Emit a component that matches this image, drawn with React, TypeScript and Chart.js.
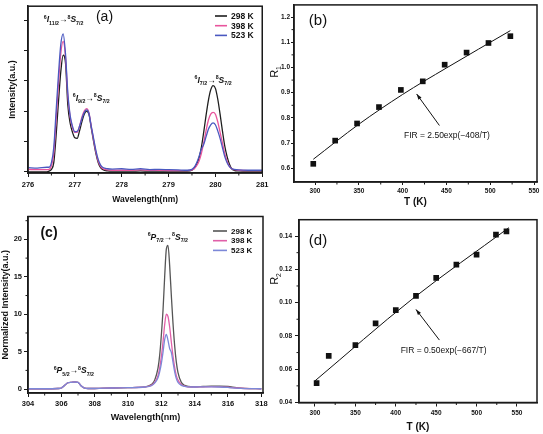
import React, { useEffect, useRef } from 'react';
import { Chart, registerables } from 'chart.js';
Chart.register(...registerables);

const FONT = '"Liberation Sans", Arial, Helvetica, sans-serif';
const AXIS = '#1a1a1a';
const INK = '#111111';

// ---------- shared ----------
const legendLabels = ['298 K', '398 K', '523 K'];
const colorsA = ['#1e1e1e', '#e8559d', '#4a58c0'];
const colorsC = ['#555555', '#e060a8', '#7c88d8'];

// ---------- panel (a) ----------
const waveA = [276.0, 276.2, 276.4, 276.45, 276.5, 276.55, 276.6, 276.65, 276.7, 276.75,
  276.8, 276.85, 276.9, 276.95, 277.0, 277.05, 277.1, 277.15, 277.2, 277.25,
  277.3, 277.35, 277.4, 277.45, 277.5, 277.55, 277.6, 277.7, 277.8, 278.0,
  278.2, 278.4, 278.6, 278.8, 279.0, 279.2, 279.4, 279.5, 279.55, 279.6,
  279.65, 279.7, 279.75, 279.8, 279.85, 279.9, 279.95, 280.0, 280.05, 280.1,
  280.15, 280.2, 280.25, 280.3, 280.35, 280.4, 280.5, 280.7, 281.0];
const a298 = [0.0, 0.0, 0.0, 0.02, 0.08, 0.3, 1.2, 2.3, 3.3, 3.85,
  3.6, 2.2, 1.6, 1.3, 1.12, 1.1, 1.35, 1.65, 1.9, 2.0,
  1.9, 1.45, 1.0, 0.6, 0.3, 0.14, 0.07, 0.03, 0.02, 0.02,
  0.02, 0.03, 0.02, 0.02, 0.02, 0.02, 0.02, 0.05, 0.12, 0.25,
  0.45, 0.8, 1.3, 1.85, 2.35, 2.7, 2.84, 2.75, 2.4, 1.9,
  1.35, 0.85, 0.5, 0.25, 0.1, 0.05, 0.03, 0.02, 0.02];
const a398 = [0.08, 0.07, 0.07, 0.08, 0.2, 0.6, 1.7, 2.9, 3.9, 4.3,
  3.8, 2.5, 1.8, 1.45, 1.3, 1.3, 1.5, 1.8, 2.0, 2.08,
  1.95, 1.5, 1.05, 0.65, 0.35, 0.18, 0.1, 0.06, 0.05, 0.05,
  0.05, 0.06, 0.05, 0.05, 0.04, 0.04, 0.04, 0.06, 0.1, 0.2,
  0.35, 0.6, 0.95, 1.35, 1.7, 1.9, 1.96, 1.9, 1.65, 1.3,
  0.95, 0.6, 0.35, 0.18, 0.1, 0.07, 0.05, 0.04, 0.04];
const a523 = [0.14, 0.12, 0.15, 0.15, 0.3, 0.8, 2.0, 3.2, 4.2, 4.55,
  3.9, 2.6, 1.85, 1.5, 1.32, 1.33, 1.5, 1.75, 1.95, 2.04,
  1.93, 1.5, 1.1, 0.7, 0.4, 0.22, 0.14, 0.1, 0.09, 0.1,
  0.08, 0.1, 0.07, 0.08, 0.07, 0.06, 0.05, 0.08, 0.15, 0.3,
  0.5, 0.75, 0.9, 1.15, 1.4, 1.55, 1.61, 1.55, 1.35, 1.1,
  0.8, 0.5, 0.3, 0.17, 0.1, 0.08, 0.06, 0.05, 0.05];
const ticksAX = [276, 277, 278, 279, 280, 281];
const minorAX = [276.5, 277.5, 278.5, 279.5, 280.5];
const ticksAY = [0, 1, 2, 3, 4, 5];

// ---------- panel (b) ----------
const tempB = [298, 323, 348, 373, 398, 423, 448, 473, 498, 523];
const r1 = [0.618, 0.71, 0.778, 0.843, 0.911, 0.945, 1.011, 1.059, 1.097, 1.124];
const fitTB = [298, 350, 400, 450, 523];
const fitR1 = [0.636, 0.775, 0.893, 0.998, 1.146];
const ticksBX = [300, 350, 400, 450, 500, 550];
const minorBX = [325, 375, 425, 475, 525];
const ticksBY = [0.6, 0.7, 0.8, 0.9, 1.0, 1.1, 1.2];
const minorBY = [0.65, 0.75, 0.85, 0.95, 1.05, 1.15];

// ---------- panel (c) ----------
const waveC = [304, 305, 305.8, 306.0, 306.2, 306.4, 306.6, 306.8, 307.0, 307.2,
  307.4, 307.6, 308, 309, 310, 311, 311.4, 311.6, 311.8, 311.9,
  312.0, 312.1, 312.2, 312.3, 312.4, 312.5, 312.6, 312.7, 312.8, 312.9,
  313.0, 313.2, 313.4, 313.6, 314, 314.5, 315, 315.5, 316, 316.5, 317, 318];
const c298 = [0.05, 0.05, 0.08, 0.15, 0.5, 0.85, 0.9, 0.95, 0.9, 0.4,
  0.12, 0.08, 0.08, 0.15, 0.2, 0.3, 0.6, 1.2, 2.8, 4.5,
  7.2, 10.5, 15.0, 18.7, 19.2, 16.5, 12.5, 8.8, 5.8, 3.6,
  2.2, 0.9, 0.5, 0.35, 0.3, 0.35, 0.4, 0.4, 0.35, 0.2, 0.1, 0.05];
const c398 = [0.05, 0.05, 0.08, 0.15, 0.5, 0.85, 0.9, 0.95, 0.9, 0.4,
  0.12, 0.08, 0.08, 0.15, 0.2, 0.28, 0.5, 0.9, 1.8, 2.8,
  4.3, 6.3, 8.6, 10.0, 9.7, 8.3, 6.3, 4.4, 2.9, 1.8,
  1.2, 0.6, 0.4, 0.3, 0.28, 0.3, 0.32, 0.3, 0.25, 0.15, 0.08, 0.05];
const c523 = [0.05, 0.05, 0.08, 0.15, 0.5, 0.85, 0.9, 0.95, 0.9, 0.4,
  0.12, 0.08, 0.08, 0.15, 0.2, 0.28, 0.45, 0.8, 1.5, 2.3,
  3.4, 4.9, 6.6, 7.3, 6.5, 5.4, 4.9, 3.6, 2.3, 1.4,
  0.9, 0.5, 0.35, 0.3, 0.28, 0.3, 0.3, 0.28, 0.22, 0.12, 0.07, 0.05];
const ticksCX = [304, 306, 308, 310, 312, 314, 316, 318];
const minorCX = [305, 307, 309, 311, 313, 315, 317];
const ticksCY = [0, 5, 10, 15, 20];
const minorCY = [2.5, 7.5, 12.5, 17.5, 22.5];

// ---------- panel (d) ----------
const tempD = [302, 317, 350, 375, 400, 425, 450, 475, 500, 524, 537];
const r2 = [0.0516, 0.068, 0.0745, 0.0875, 0.0955, 0.104, 0.1149, 0.1228, 0.1288, 0.1408, 0.1428];
const fitTD = [300, 420, 540];
const fitR2 = [0.053, 0.102, 0.145];
const ticksDX = [300, 350, 400, 450, 500, 550];
const minorDX = [325, 375, 425, 475, 525];
const ticksDY = [0.04, 0.06, 0.08, 0.1, 0.12, 0.14];
const minorDY = [0.05, 0.07, 0.09, 0.11, 0.13];

// ---------- text helpers ----------
type Seg = { t: string; k: 'n' | 'i' | 'sup' | 'sub' };
const trans = (s1: string, l1: string, b1: string, s2: string, l2: string, b2: string): Seg[] => [
  { t: s1, k: 'sup' }, { t: l1, k: 'i' }, { t: b1, k: 'sub' }, { t: '\u2192', k: 'n' },
  { t: s2, k: 'sup' }, { t: l2, k: 'i' }, { t: b2, k: 'sub' },
];

function drawRich(ctx: CanvasRenderingContext2D, segs: Seg[], cx: number, cy: number, size: number, weight = 'bold') {
  const f = (k: string) =>
    k === 'i' ? `italic ${weight} ${size}px ${FONT}` : k === 'n' ? `${weight} ${size}px ${FONT}` : `${weight} ${size * 0.62}px ${FONT}`;
  let w = 0;
  segs.forEach((s) => { ctx.font = f(s.k); w += ctx.measureText(s.t).width; });
  let x = cx - w / 2;
  ctx.textAlign = 'left';
  ctx.textBaseline = 'alphabetic';
  ctx.fillStyle = INK;
  segs.forEach((s) => {
    ctx.font = f(s.k);
    const dy = s.k === 'sup' ? -size * 0.42 : s.k === 'sub' ? size * 0.28 : 0;
    ctx.fillText(s.t, x, cy + size * 0.36 + dy);
    x += ctx.measureText(s.t).width;
  });
}

function drawLegend(ctx: CanvasRenderingContext2D, colors: string[], x0: number, y0: number, dy: number, len: number, size: number) {
  ctx.font = `bold ${size}px ${FONT}`;
  ctx.textAlign = 'left';
  ctx.textBaseline = 'middle';
  legendLabels.forEach((lab, i) => {
    const y = y0 + i * dy;
    ctx.strokeStyle = colors[i];
    ctx.lineWidth = 1.6;
    ctx.beginPath();
    ctx.moveTo(x0, y);
    ctx.lineTo(x0 + len, y);
    ctx.stroke();
    ctx.fillStyle = INK;
    ctx.fillText(lab, x0 + len + 4, y + 0.5);
  });
}

function drawTag(ctx: CanvasRenderingContext2D, text: string, cx: number, cy: number, size: number, bold: boolean) {
  ctx.font = `${bold ? 'bold ' : ''}${size}px ${FONT}`;
  ctx.fillStyle = INK;
  ctx.textAlign = 'center';
  ctx.textBaseline = 'middle';
  ctx.fillText(text, cx, cy);
}

function drawArrow(ctx: CanvasRenderingContext2D, x1: number, y1: number, x2: number, y2: number) {
  ctx.strokeStyle = INK;
  ctx.fillStyle = INK;
  ctx.lineWidth = 1;
  ctx.beginPath();
  ctx.moveTo(x1, y1);
  ctx.lineTo(x2, y2);
  ctx.stroke();
  const a = Math.atan2(y2 - y1, x2 - x1);
  const L = 6, W = 0.32;
  ctx.beginPath();
  ctx.moveTo(x2, y2);
  ctx.lineTo(x2 - L * Math.cos(a - W), y2 - L * Math.sin(a - W));
  ctx.lineTo(x2 - L * Math.cos(a + W), y2 - L * Math.sin(a + W));
  ctx.closePath();
  ctx.fill();
}

function drawYTitleR(ctx: CanvasRenderingContext2D, sub: string, cx: number, cy: number) {
  ctx.save();
  ctx.translate(cx, cy);
  ctx.rotate(-Math.PI / 2);
  drawRich(ctx, [{ t: 'R', k: 'n' }, { t: sub, k: 'sub' }], 0, 0, 11, 'normal');
  ctx.restore();
}

// ---------- chart helpers ----------
function axis(o: {
  min: number; max: number; ticks: number[]; fmt: (v: number) => string; fit: number; horiz: boolean;
  tickFont: number; tickLen: number; tickPad: number; title?: string; titleFont?: number; titlePad?: any;
}) {
  return {
    type: 'linear',
    min: o.min,
    max: o.max,
    afterBuildTicks: (s: any) => { s.ticks = o.ticks.map((v) => ({ value: v })); },
    afterFit: (s: any) => { if (o.horiz) s.height = o.fit; else s.width = o.fit; },
    grid: { drawOnChartArea: false, drawTicks: true, tickLength: o.tickLen, color: AXIS, lineWidth: 1 },
    border: { display: true, color: AXIS, width: 1.5 },
    ticks: {
      autoSkip: false, maxRotation: 0, minRotation: 0, padding: o.tickPad, color: INK,
      font: { family: FONT, size: o.tickFont, weight: 'bold' },
      callback: (v: any) => o.fmt(Number(v)),
    },
    title: o.title
      ? { display: true, text: o.title, color: INK, font: { family: FONT, size: o.titleFont, weight: 'bold' }, padding: o.titlePad }
      : { display: false },
  };
}

function overlay(minorX: number[], minorY: number[], extra: (ctx: CanvasRenderingContext2D, chart: any) => void) {
  return {
    id: 'overlay',
    afterDraw(chart: any) {
      const { ctx, chartArea: a, scales } = chart;
      ctx.save();
      ctx.strokeStyle = AXIS;
      ctx.lineWidth = 1.5;
      ctx.strokeRect(a.left, a.top, a.right - a.left, a.bottom - a.top);
      ctx.lineWidth = 1;
      ctx.beginPath();
      minorX.forEach((v) => { const x = scales.x.getPixelForValue(v); ctx.moveTo(x, a.bottom); ctx.lineTo(x, a.bottom + 2.5); });
      minorY.forEach((v) => { const y = scales.y.getPixelForValue(v); ctx.moveTo(a.left, y); ctx.lineTo(a.left - 2.5, y); });
      ctx.stroke();
      extra(ctx, chart);
      ctx.restore();
    },
  };
}

const spectrum = (xs: number[], ys: number[], color: string, order: number) => ({
  data: xs.map((x, i) => ({ x, y: ys[i] })),
  borderColor: color,
  borderWidth: 1.3,
  pointRadius: 0,
  cubicInterpolationMode: 'monotone',
  fill: false,
  order,
});

const baseOptions = (padding: any) => ({
  responsive: false,
  animation: false,
  devicePixelRatio: 1,
  layout: { padding },
  plugins: { legend: { display: false }, tooltip: { enabled: false } },
});

// ---------- annotations ----------
const labelsA = [
  { x: 276.76, y: 5.03, segs: trans('6', 'I', '11/2', '8', 'S', '7/2') },
  { x: 277.35, y: 2.44, segs: trans('6', 'I', '9/2', '8', 'S', '7/2') },
  { x: 279.95, y: 3.04, segs: trans('6', 'I', '7/2', '8', 'S', '7/2') },
];
const labelsC = [
  { x: 312.39, y: 20.35, segs: trans('6', 'P', '7/2', '8', 'S', '7/2') },
  { x: 306.75, y: 2.54, segs: trans('6', 'P', '5/2', '8', 'S', '7/2') },
];
const noteB = { text: 'FIR = 2.50exp(\u2212408/T)', x: 401.5, y: 0.73, tail: [442, 0.77], tip: [416, 0.895] };
const noteD = { text: 'FIR = 0.50exp(\u2212667/T)', x: 406, y: 0.0713, tail: [454, 0.0775], tip: [425, 0.0959] };

function drawNote(ctx: CanvasRenderingContext2D, chart: any, n: any) {
  const xs = chart.scales.x, ys = chart.scales.y;
  drawArrow(ctx, xs.getPixelForValue(n.tail[0]), ys.getPixelForValue(n.tail[1]), xs.getPixelForValue(n.tip[0]), ys.getPixelForValue(n.tip[1]));
  ctx.font = `8.5px ${FONT}`;
  ctx.fillStyle = INK;
  ctx.textAlign = 'left';
  ctx.textBaseline = 'middle';
  ctx.fillText(n.text, xs.getPixelForValue(n.x), ys.getPixelForValue(n.y));
}

// ---------- configs ----------
function configA(): any {
  return {
    type: 'line',
    data: { datasets: [spectrum(waveA, a298, colorsA[0], 3), spectrum(waveA, a398, colorsA[1], 2), spectrum(waveA, a523, colorsA[2], 1)] },
    options: {
      ...baseOptions({ left: 0, right: 7, top: 2, bottom: 0 }),
      scales: {
        x: axis({ min: 276, max: 281, ticks: ticksAX, fmt: (v) => String(v), fit: 37, horiz: true, tickFont: 7.5, tickLen: 4, tickPad: 3.5, title: 'Wavelength(nm)', titleFont: 8.5, titlePad: { top: 0, bottom: 4.8 } }),
        y: axis({ min: -0.04, max: 5.46, ticks: ticksAY, fmt: () => '', fit: 28, horiz: false, tickFont: 7, tickLen: 4, tickPad: 2, title: 'Intensity(a.u.)', titleFont: 9, titlePad: { top: 7.6, bottom: 0 } }),
      },
    },
    plugins: [overlay(minorAX, [], (ctx, chart) => {
      drawLegend(ctx, colorsA, 215, 16, 9.7, 12, 8.5);
      drawTag(ctx, '(a)', 104.5, 17.5, 14, false);
      labelsA.forEach((l) => drawRich(ctx, l.segs, chart.scales.x.getPixelForValue(l.x), chart.scales.y.getPixelForValue(l.y), 8.5));
    })],
  };
}

function configB(): any {
  return {
    type: 'scatter',
    data: {
      datasets: [
        { data: tempB.map((x, i) => ({ x, y: r1[i] })), pointStyle: 'rect', pointRadius: 4, backgroundColor: INK, borderColor: INK, borderWidth: 0, order: 1 },
        { data: fitTB.map((x, i) => ({ x, y: fitR1[i] })), showLine: true, pointRadius: 0, borderColor: INK, borderWidth: 1, cubicInterpolationMode: 'monotone', order: 2 },
      ],
    },
    options: {
      ...baseOptions({ left: 0, right: 6, top: 3, bottom: 0 }),
      scales: {
        x: axis({ min: 276, max: 553.4, ticks: ticksBX, fmt: (v) => String(v), fit: 28, horiz: true, tickFont: 6.5, tickLen: 3, tickPad: 2, title: 'T (K)', titleFont: 10, titlePad: { top: 0, bottom: 1.3 } }),
        y: axis({ min: 0.546, max: 1.248, ticks: ticksBY, fmt: (v) => v.toFixed(1), fit: 32, horiz: false, tickFont: 6.5, tickLen: 3, tickPad: 1 }),
      },
    },
    plugins: [overlay(minorBX, minorBY, (ctx, chart) => {
      drawTag(ctx, '(b)', 56, 20.5, 15, false);
      drawYTitleR(ctx, '1', 12, 72);
      drawNote(ctx, chart, noteB);
    })],
  };
}

function configC(): any {
  return {
    type: 'line',
    data: { datasets: [spectrum(waveC, c298, colorsC[0], 3), spectrum(waveC, c398, colorsC[1], 2), spectrum(waveC, c523, colorsC[2], 1)] },
    options: {
      ...baseOptions({ left: 0, right: 9, top: 1, bottom: 0 }),
      scales: {
        x: axis({ min: 304, max: 318.1, ticks: ticksCX, fmt: (v) => String(v), fit: 41, horiz: true, tickFont: 7.5, tickLen: 4, tickPad: 2, title: 'Wavelength(nm)', titleFont: 9, titlePad: { top: 0, bottom: 10.6 } }),
        y: axis({ min: -0.52, max: 23.06, ticks: ticksCY, fmt: (v) => String(v), fit: 28, horiz: false, tickFont: 7.5, tickLen: 4, tickPad: 2, title: 'Normalized Intensity(a.u.)', titleFont: 9, titlePad: { top: 0.2, bottom: 0 } }),
      },
    },
    plugins: [overlay(minorCX, minorCY, (ctx, chart) => {
      drawLegend(ctx, colorsC, 213, 21, 9.7, 14, 8);
      drawTag(ctx, '(c)', 49, 23, 14, true);
      labelsC.forEach((l) => drawRich(ctx, l.segs, chart.scales.x.getPixelForValue(l.x), chart.scales.y.getPixelForValue(l.y), 8.5));
    })],
  };
}

function configD(): any {
  return {
    type: 'scatter',
    data: {
      datasets: [
        { data: tempD.map((x, i) => ({ x, y: r2[i] })), pointStyle: 'rect', pointRadius: 4, backgroundColor: INK, borderColor: INK, borderWidth: 0, order: 1 },
        { data: fitTD.map((x, i) => ({ x, y: fitR2[i] })), showLine: true, pointRadius: 0, borderColor: INK, borderWidth: 1, cubicInterpolationMode: 'monotone', order: 2 },
      ],
    },
    options: {
      ...baseOptions({ left: 0, right: 6, top: 9.7, bottom: 0 }),
      scales: {
        x: axis({ min: 280.2, max: 574.8, ticks: ticksDX, fmt: (v) => String(v), fit: 31.5, horiz: true, tickFont: 6.5, tickLen: 4, tickPad: 2.5, title: 'T (K)', titleFont: 10, titlePad: { top: 0, bottom: 1 } }),
        y: axis({ min: 0.04, max: 0.1498, ticks: ticksDY, fmt: (v) => v.toFixed(2), fit: 37, horiz: false, tickFont: 6.5, tickLen: 4, tickPad: 3 }),
      },
    },
    plugins: [overlay(minorDX, minorDY, (ctx, chart) => {
      drawTag(ctx, '(d)', 56, 31, 15, false);
      drawYTitleR(ctx, '2', 12, 69);
      drawNote(ctx, chart, noteD);
    })],
  };
}

function Panel({ left, top, width, height, make }: { left: number; top: number; width: number; height: number; make: () => any }) {
  const ref = useRef<HTMLCanvasElement>(null);
  useEffect(() => {
    const chart = new Chart(ref.current as HTMLCanvasElement, make());
    return () => chart.destroy();
  }, []);
  return <canvas ref={ref} width={width} height={height} style={{ position: 'absolute', left, top, width, height }} />;
}

export default function App() {
  return (
    <div style={{ position: 'absolute', left: 0, top: 0, width: 543, height: 434, background: '#ffffff', overflow: 'hidden' }}>
      <Panel left={0} top={0} width={272} height={210} make={configA} />
      <Panel left={0} top={210} width={272} height={224} make={configC} />
      <Panel left={262} top={0} width={281} height={210} make={configB} />
      <Panel left={262} top={210} width={281} height={224} make={configD} />
    </div>
  );
}
